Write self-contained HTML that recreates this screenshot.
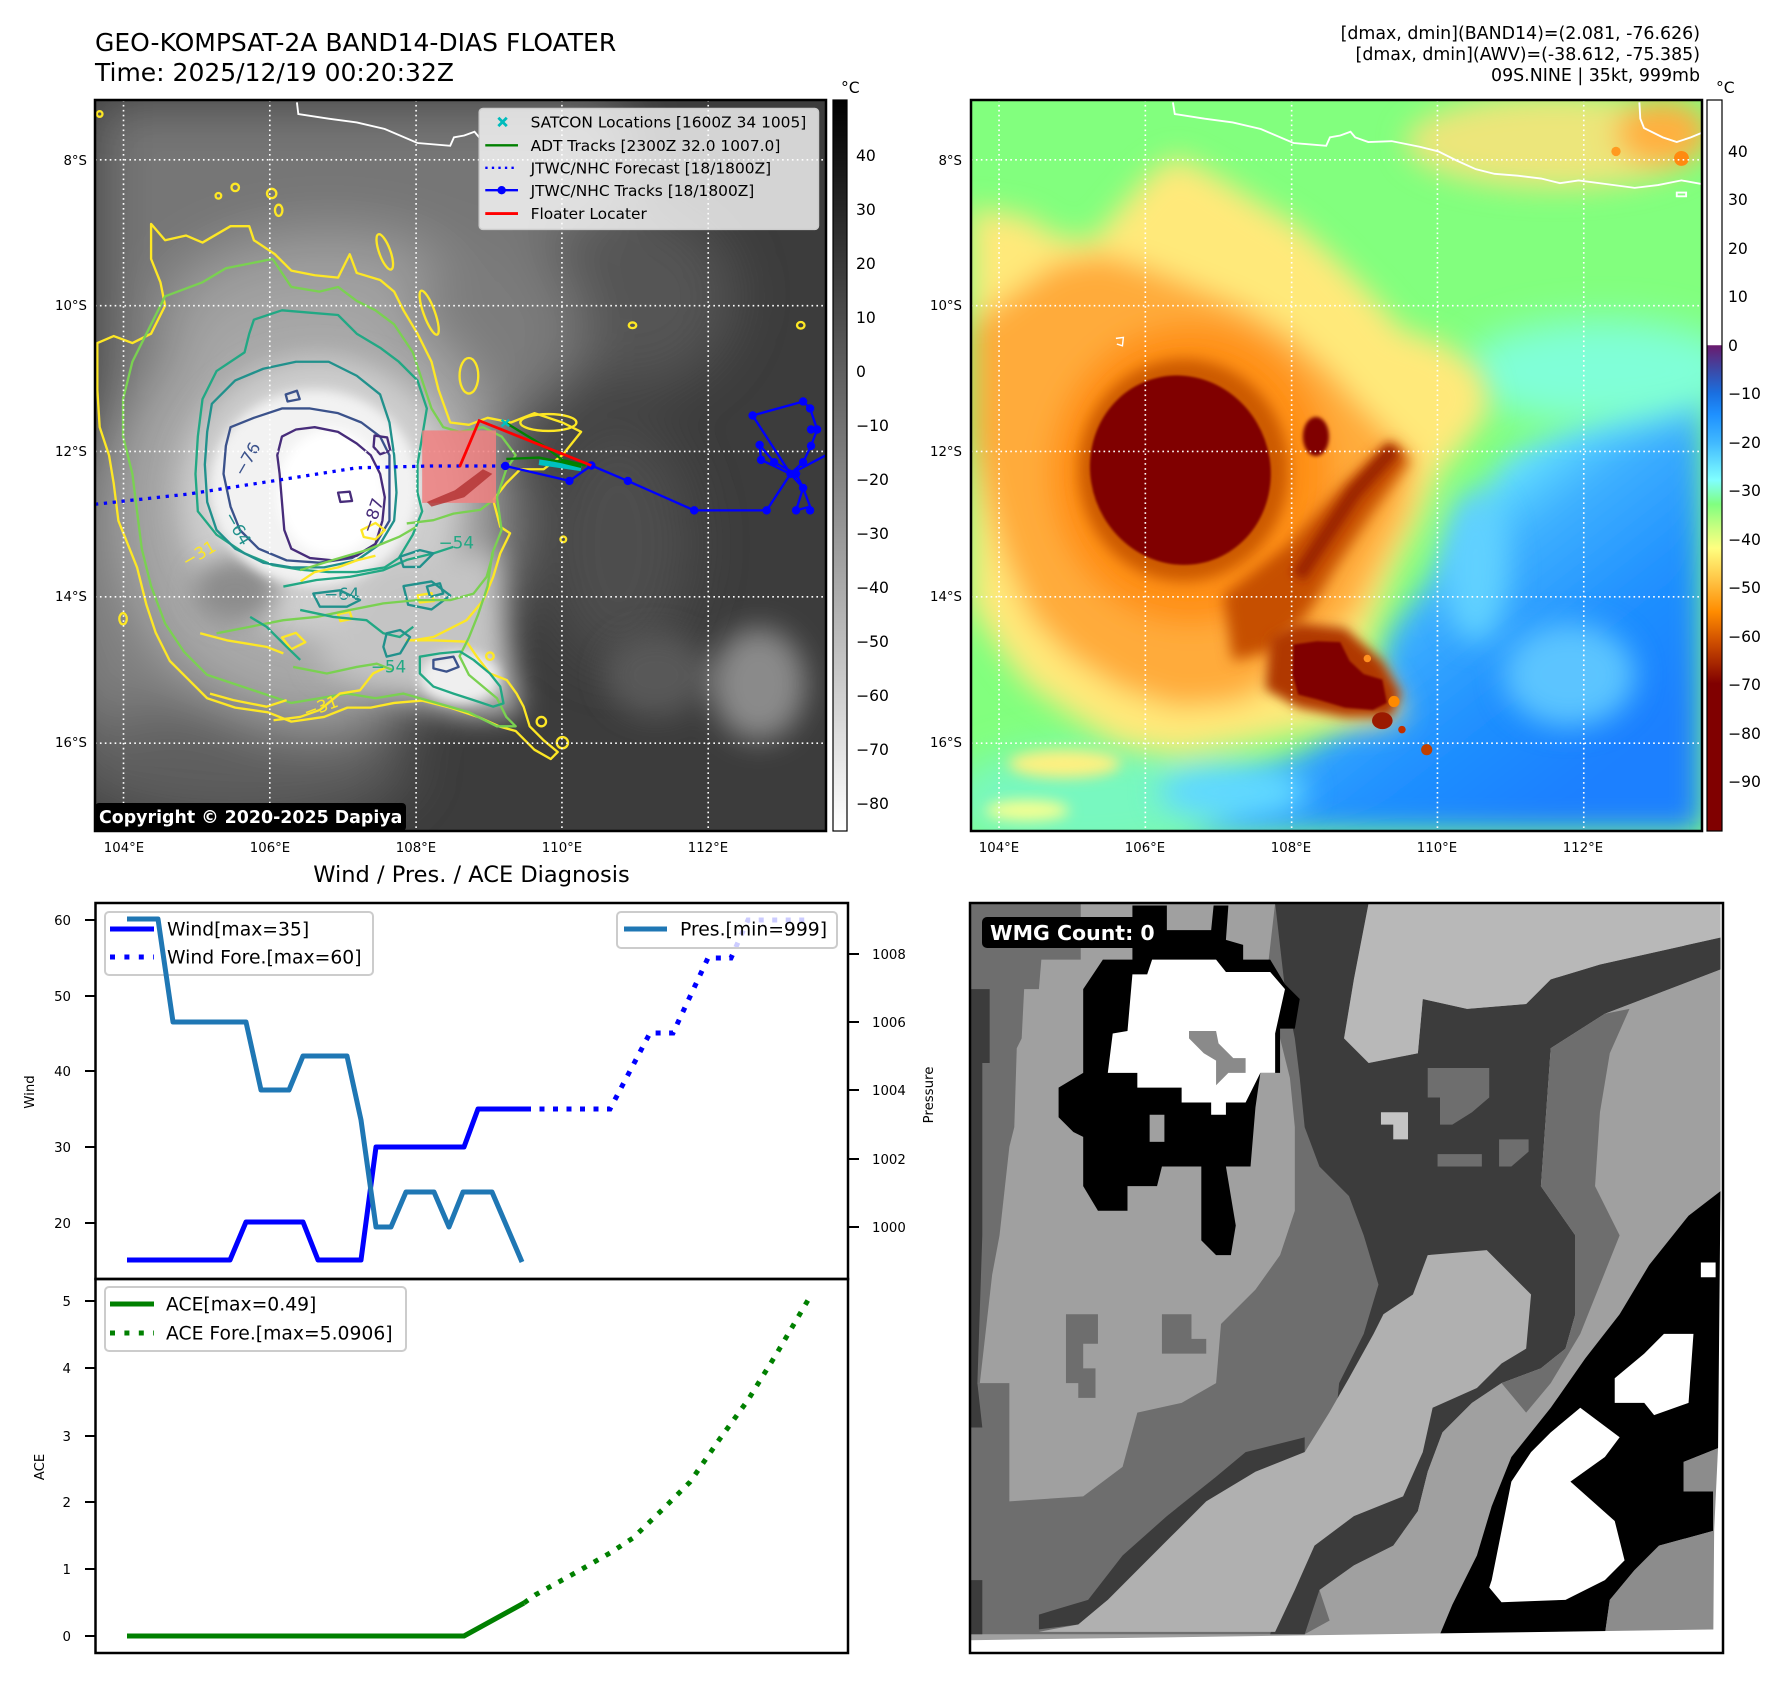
<!DOCTYPE html>
<html><head><meta charset="utf-8"><style>
html,body{margin:0;padding:0;background:#fff;}
svg{display:block;font-family:"DejaVu Sans","Liberation Sans",sans-serif;}
</style></head><body>
<svg width="1788" height="1690" viewBox="0 0 1788 1690" xmlns="http://www.w3.org/2000/svg">
<defs>
<filter id="b2" x="-20%" y="-20%" width="140%" height="140%"><feGaussianBlur stdDeviation="2"/></filter>
<filter id="b4" x="-50%" y="-50%" width="200%" height="200%"><feGaussianBlur stdDeviation="4"/></filter>
<filter id="b10" x="-50%" y="-50%" width="200%" height="200%"><feGaussianBlur stdDeviation="10"/></filter>
<filter id="b12" x="-50%" y="-50%" width="200%" height="200%"><feGaussianBlur stdDeviation="12"/></filter>
<filter id="b15" x="-50%" y="-50%" width="200%" height="200%"><feGaussianBlur stdDeviation="15"/></filter>
<filter id="b25" x="-50%" y="-50%" width="200%" height="200%"><feGaussianBlur stdDeviation="25"/></filter>
<filter id="b30" x="-50%" y="-50%" width="200%" height="200%"><feGaussianBlur stdDeviation="30"/></filter>
<filter id="b40" x="-50%" y="-50%" width="200%" height="200%"><feGaussianBlur stdDeviation="40"/></filter>
<filter id="b60" x="-50%" y="-50%" width="200%" height="200%"><feGaussianBlur stdDeviation="60"/></filter>
<linearGradient id="cb1" x1="0" y1="0" x2="0" y2="1">
<stop offset="0" stop-color="#000"/><stop offset="1" stop-color="#fff"/>
</linearGradient>
<linearGradient id="cb2" x1="0" y1="0" x2="0" y2="1">
<stop offset="0" stop-color="#fff"/><stop offset="0.335" stop-color="#fff"/>
<stop offset="0.336" stop-color="#6a1b6e"/><stop offset="0.37" stop-color="#3b4aa8"/>
<stop offset="0.401" stop-color="#1a6fe0"/><stop offset="0.43" stop-color="#1e90ff"/>
<stop offset="0.468" stop-color="#40b8ff"/><stop offset="0.52" stop-color="#80ffff"/>
<stop offset="0.553" stop-color="#80ff80"/><stop offset="0.585" stop-color="#c8ff80"/>
<stop offset="0.613" stop-color="#ffff80"/><stop offset="0.66" stop-color="#ffc040"/>
<stop offset="0.70" stop-color="#ff8c00"/><stop offset="0.74" stop-color="#d05000"/>
<stop offset="0.775" stop-color="#a02000"/><stop offset="0.798" stop-color="#800000"/>
<stop offset="1" stop-color="#800000"/>
</linearGradient>
<linearGradient id="blueg" gradientUnits="userSpaceOnUse" x1="950" y1="700" x2="1450" y2="1350">
<stop offset="0" stop-color="#82ffd0"/><stop offset="0.18" stop-color="#72f0ff"/>
<stop offset="0.4" stop-color="#3eb0ff"/><stop offset="0.7" stop-color="#2090ff"/>
<stop offset="1" stop-color="#1a80ff"/>
</linearGradient>
</defs>

<!-- Titles -->
<text x="95" y="51" font-size="25">GEO-KOMPSAT-2A BAND14-DIAS FLOATER</text>
<text x="95" y="81" font-size="25">Time: 2025/12/19 00:20:32Z</text>
<text x="1700" y="39" font-size="17.4" text-anchor="end">[dmax, dmin](BAND14)=(2.081, -76.626)</text>
<text x="1700" y="60" font-size="17.4" text-anchor="end">[dmax, dmin](AWV)=(-38.612, -75.385)</text>
<text x="1700" y="81" font-size="17.4" text-anchor="end">09S.NINE | 35kt, 999mb</text>

<!-- ============ GRAY MAP ============ -->
<svg x="95" y="100" width="731" height="731" viewBox="0 0 1564 1564" preserveAspectRatio="none">
<rect width="1564" height="1564" fill="#3c3c3c"/>
<g filter="url(#b60)">
<path d="M0,0 L1120,0 1160,250 1080,460 950,580 700,640 400,700 0,760 Z" fill="#767676"/>
<ellipse cx="1150" cy="420" rx="220" ry="200" fill="#555555"/>
<ellipse cx="160" cy="1050" rx="260" ry="480" fill="#7e7e7e"/>
<ellipse cx="300" cy="1420" rx="380" ry="130" fill="#5e5e5e"/>
<ellipse cx="1120" cy="950" rx="160" ry="260" fill="#4e4e4e"/>
<ellipse cx="500" cy="470" rx="360" ry="190" fill="#9c9c9c"/>
<ellipse cx="860" cy="500" rx="180" ry="200" fill="#7c7c7c"/>
<ellipse cx="470" cy="880" rx="420" ry="460" fill="#a8a8a8"/>
</g>
<g filter="url(#b30)">
<ellipse cx="480" cy="850" rx="300" ry="300" fill="#cdcdcd"/>
<path d="M600,1000 L860,960 880,1150 910,1310 800,1320 680,1280 560,1250 470,1200 Z" fill="#c4c4c4"/>
<ellipse cx="1420" cy="1250" rx="100" ry="120" fill="#8a8a8a"/>
<ellipse cx="1200" cy="1230" rx="110" ry="90" fill="#585858"/>
</g>
<ellipse cx="300" cy="1050" rx="90" ry="70" fill="#8c8c8c" filter="url(#b25)"/>
<g filter="url(#b12)">
<ellipse cx="470" cy="830" rx="225" ry="210" fill="#f2f2f2"/>
<ellipse cx="780" cy="1235" rx="85" ry="55" fill="#efefef"/>
<ellipse cx="505" cy="840" rx="115" ry="135" fill="#fff"/>
</g>
<!-- contours -->
<g fill="none" stroke-width="5" stroke-linejoin="round">
<path stroke="#fde725" d="M120,265 L150,300 195,290 230,305 290,270 330,270 340,300 385,330 420,365 470,375 520,380 545,330 560,370 610,385 640,410 660,450 690,500 720,560 735,620 760,690 800,695 840,680 890,690 940,670 1000,690 1040,710 1000,760 960,790 910,790 880,820 852,856 867,913 888,927 867,970 852,1020 831,1070 795,1113 724,1149 681,1156 667,1156 724,1156 795,1159 817,1191 845,1227 881,1241 902,1270 917,1298 930,1340 960,1370 990,1395 975,1410 940,1390 900,1350 867,1341 820,1320 760,1300 700,1285 640,1290 590,1300 540,1300 490,1320 420,1330 370,1310 300,1300 240,1280 200,1240 160,1200 130,1140 110,1080 90,1000 70,950 50,900 40,820 30,760 10,700 5,620 5,520 40,505 80,520 120,500 150,440 140,390 120,340 Z"/>
<path stroke="#7ad151" d="M150,420 L230,390 280,360 330,350 380,340 420,400 480,410 520,400 560,430 600,450 640,480 680,540 700,600 720,660 745,700 780,710 830,700 870,720 900,760 880,790 860,850 870,920 850,970 840,1040 820,1100 800,1150 780,1190 800,1230 860,1280 880,1320 900,1340 860,1340 800,1310 730,1290 660,1270 600,1280 540,1270 480,1280 420,1290 360,1270 300,1250 240,1230 190,1180 150,1120 120,1040 100,960 90,880 80,800 60,720 60,640 80,560 110,500 Z"/>
<path stroke="#22a884" d="M340,470 L400,450 460,455 520,460 560,500 610,530 650,560 690,600 710,660 700,720 690,780 690,840 700,880 680,930 650,980 620,1000 560,1010 500,1010 440,1005 380,995 320,970 260,930 220,880 215,800 220,720 230,640 260,580 320,540 330,500 Z"/>
<path stroke="#22a884" d="M695,1191 L738,1184 781,1180 810,1198 845,1227 867,1255 874,1291 852,1298 810,1284 767,1270 724,1255 695,1227 Z"/>
<path stroke="#21918c" d="M660,1040 L720,1030 760,1060 720,1090 670,1080 Z"/>
<path stroke="#21918c" d="M250,650 L300,600 360,575 430,560 500,560 560,590 610,630 630,690 640,760 645,840 640,900 610,950 560,985 490,1000 420,1000 360,990 300,960 260,920 240,860 235,780 240,710 Z"/>
<path stroke="#3b528b" d="M290,700 L340,680 400,660 460,660 520,670 570,690 610,720 630,760 630,830 630,900 600,950 550,980 480,990 410,985 350,960 310,920 290,870 275,800 280,740 Z"/>
<path stroke="#472c7a" d="M400,720 L430,705 470,700 520,710 560,735 590,760 610,800 620,850 615,900 600,950 560,975 510,985 460,980 420,960 405,920 400,860 395,800 390,760 Z"/>
<path stroke="#472c7a" d="M598,718 L625,722 632,750 610,758 596,742 Z"/>
<path stroke="#3b528b" d="M408,630 L432,622 438,640 412,645 Z"/>
<path stroke="#472c7a" d="M520,840 L545,838 550,858 525,860 Z"/>
<path stroke="#3b528b" d="M724,1198 L767,1191 778,1213 752,1223 724,1216 Z"/>
<path stroke="#fde725" d="M440,1030 L470,1010 520,1000 560,985 600,975"/>
<path stroke="#fde725" d="M570,920 L600,905 620,920 600,940 575,935 Z"/>
<path stroke="#fde725" d="M225,1141 L282,1156 367,1170 403,1184"/>
<path stroke="#fde725" d="M246,1270 L296,1284 367,1298 410,1284"/>
<path stroke="#fde725" d="M382,1327 L439,1320 481,1305 524,1270 567,1263 595,1227 624,1213"/>
<path stroke="#fde725" d="M400,1150 L430,1140 450,1160 420,1175 Z M520,1100 L545,1095 550,1110 525,1115 Z M690,1060 L720,1055 725,1072 695,1075 Z"/>
<path stroke="#7ad151" d="M667,906 L724,899 767,885 824,877 852,856"/>
<path stroke="#7ad151" d="M439,1006 L510,984 581,963 652,934 688,913"/>
<path stroke="#7ad151" d="M260,1141 L332,1127 403,1113 474,1106 546,1091 617,1077 688,1070 760,1070 810,1056 838,1020 852,970"/>
<path stroke="#7ad151" d="M424,1213 L496,1227 560,1213 603,1206 638,1220"/>
<path stroke="#22a884" d="M403,1041 L474,1027 546,1020 617,1006 667,984 724,970 767,956"/>
<path stroke="#22a884" d="M439,1091 L510,1106 581,1113 617,1141 652,1149 681,1127"/>
<path stroke="#22a884" d="M332,1106 L367,1127 410,1170 439,1198"/>
<path stroke="#21918c" d="M467,1056 L524,1049 567,1070 539,1084 481,1084 Z"/>
<path stroke="#21918c" d="M624,1141 L653,1134 674,1149 653,1184 624,1191 617,1170 Z"/>
<path stroke="#21918c" d="M710,1041 L738,1034 745,1056 717,1063 Z"/>
<path stroke="#21918c" d="M653,977 L695,963 724,970 695,999 660,999 Z"/>
<g stroke="#fde725">
<circle cx="378" cy="200" r="10"/><circle cx="300" cy="187" r="8"/><circle cx="264" cy="205" r="6"/>
<ellipse cx="393" cy="236" rx="8" ry="12"/><ellipse cx="620" cy="325" rx="12" ry="40" transform="rotate(-20 620 325)"/>
<ellipse cx="800" cy="590" rx="20" ry="38"/><ellipse cx="715" cy="455" rx="12" ry="50" transform="rotate(-20 715 455)"/>
<ellipse cx="1150" cy="482" rx="8" ry="6"/><ellipse cx="1510" cy="482" rx="8" ry="7"/>
<circle cx="10" cy="30" r="6"/><ellipse cx="60" cy="1110" rx="8" ry="12"/>
<ellipse cx="970" cy="690" rx="60" ry="18"/><ellipse cx="1002" cy="940" rx="6" ry="6"/>
<circle cx="845" cy="1190" r="8"/><circle cx="955" cy="1330" r="10"/><circle cx="1000" cy="1375" r="12"/>
</g>
</g>
<g font-size="36">
<text x="290" y="800" fill="#3b528b" transform="rotate(-60 310 780)">−76</text>
<text x="270" y="910" fill="#21918c" transform="rotate(60 290 905)">−64</text>
<text x="565" y="920" fill="#472c7a" transform="rotate(-70 585 905)">−87</text>
<text x="185" y="990" fill="#fde725" transform="rotate(-30 210 975)">−31</text>
<text x="735" y="960" fill="#22a884">−54</text>
<text x="445" y="1315" fill="#fde725" transform="rotate(-20 470 1300)">−31</text>
<text x="490" y="1070" fill="#21918c">−64</text>
<text x="590" y="1225" fill="#22a884">−54</text>
</g>
<path d="M432,5 L435,30 500,40 560,48 620,62 690,92 760,98 768,80 790,76 812,68 822,80" fill="none" stroke="#fff" stroke-width="4"/>
<g stroke="#fff" stroke-width="3.5" stroke-dasharray="3.5 7">
<line x1="61" y1="0" x2="61" y2="1564"/><line x1="374" y1="0" x2="374" y2="1564"/><line x1="687" y1="0" x2="687" y2="1564"/><line x1="999" y1="0" x2="999" y2="1564"/><line x1="1312" y1="0" x2="1312" y2="1564"/>
<line x1="0" y1="128" x2="1564" y2="128"/><line x1="0" y1="440" x2="1564" y2="440"/><line x1="0" y1="752" x2="1564" y2="752"/><line x1="0" y1="1063" x2="1564" y2="1063"/><line x1="0" y1="1376" x2="1564" y2="1376"/>
</g>
<rect x="700" y="707" width="158" height="155" fill="#f08080" fill-opacity="0.85"/>
<path d="M710,860 L770,835 830,790 850,800 790,850 720,870 Z" fill="#b03030" opacity="0.8"/>
<path d="M0,865 L200,843 400,812 560,787 720,783 880,783" fill="none" stroke="#0000ff" stroke-width="7" stroke-dasharray="7 12"/>
<path d="M878,783 L1015,815 1062,782 1140,815 1282,878 1437,878 1488,800 1515,775 1532,740 1545,705 1530,660 1515,645 1407,675 1488,800 1515,830 1530,870 1500,878 1515,830 1500,800 1453,775 1422,738 1425,770 1488,800 1564,760" fill="none" stroke="#0000ff" stroke-width="5" stroke-linejoin="round"/>
<g fill="#0000ff">
<circle cx="878" cy="783" r="9"/><circle cx="1015" cy="815" r="9"/><circle cx="1062" cy="782" r="9"/><circle cx="1140" cy="815" r="9"/><circle cx="1282" cy="878" r="9"/><circle cx="1437" cy="878" r="9"/><circle cx="1500" cy="878" r="9"/><circle cx="1530" cy="878" r="9"/><circle cx="1407" cy="675" r="9"/><circle cx="1515" cy="645" r="9"/><circle cx="1530" cy="660" r="9"/><circle cx="1545" cy="705" r="9"/><circle cx="1532" cy="705" r="9"/><circle cx="1532" cy="740" r="9"/><circle cx="1515" cy="775" r="9"/><circle cx="1488" cy="800" r="9"/><circle cx="1500" cy="800" r="9"/><circle cx="1422" cy="738" r="9"/><circle cx="1425" cy="770" r="9"/><circle cx="1453" cy="775" r="9"/><circle cx="1515" cy="830" r="9"/>
</g>
<path d="M950,775 L1040,788" stroke="#00c0c0" stroke-width="12"/>
<path d="M878,690 L960,740 1000,770 1050,782 M880,768 L950,765 1000,775 1040,785" fill="none" stroke="#008000" stroke-width="5"/>
<path d="M870,684 L886,698 M886,684 L870,698" stroke="#00c0c0" stroke-width="5"/>
<path d="M780,785 L822,686 L1062,782" fill="none" stroke="#ff0000" stroke-width="6"/>
<rect x="822" y="18" width="726" height="259" rx="8" fill="#fff" fill-opacity="0.78" stroke="#cccccc" stroke-width="3"/>
<path d="M863,38 L881,56 M881,38 L863,56" stroke="#00bcbc" stroke-width="6"/>
<line x1="835" y1="97" x2="905" y2="97" stroke="#008000" stroke-width="5"/>
<line x1="835" y1="145" x2="905" y2="145" stroke="#0000ff" stroke-width="5" stroke-dasharray="5 9"/>
<line x1="835" y1="193" x2="905" y2="193" stroke="#0000ff" stroke-width="5"/><circle cx="870" cy="193" r="9" fill="#0000ff"/>
<line x1="835" y1="243" x2="905" y2="243" stroke="#ff0000" stroke-width="6"/>
<g font-size="33">
<text x="932" y="59">SATCON Locations [1600Z 34 1005]</text>
<text x="932" y="109">ADT Tracks [2300Z 32.0 1007.0]</text>
<text x="932" y="157">JTWC/NHC Forecast [18/1800Z]</text>
<text x="932" y="205">JTWC/NHC Tracks [18/1800Z]</text>
<text x="932" y="255">Floater Locater</text>
</g>
</svg>
<rect x="95" y="100" width="731" height="731" fill="none" stroke="#000" stroke-width="2.5"/>
<rect x="95" y="803" width="311" height="28" rx="4" fill="#000"/>
<text x="99" y="823" font-size="17.4" font-weight="bold" fill="#fff">Copyright © 2020-2025 Dapiya</text>

<!-- colorbar 1 -->
<rect x="833" y="100" width="14" height="731" fill="url(#cb1)" stroke="#000" stroke-width="1.2"/>
<text x="841" y="93" font-size="15.6">°C</text>
<g font-size="15.6">
<text x="856" y="161">40</text><text x="856" y="215">30</text><text x="856" y="269">20</text><text x="856" y="323">10</text><text x="856" y="377">0</text>
<text x="856" y="431">−10</text><text x="856" y="485">−20</text><text x="856" y="539">−30</text><text x="856" y="593">−40</text><text x="856" y="647">−50</text><text x="856" y="701">−60</text><text x="856" y="755">−70</text><text x="856" y="809">−80</text>
</g>
<g font-size="13.3">
<g text-anchor="end">
<text x="87" y="165">8°S</text><text x="87" y="310">10°S</text><text x="87" y="456">12°S</text><text x="87" y="601">14°S</text><text x="87" y="747">16°S</text>
<text x="962" y="165">8°S</text><text x="962" y="310">10°S</text><text x="962" y="456">12°S</text><text x="962" y="601">14°S</text><text x="962" y="747">16°S</text>
</g>
<g text-anchor="middle">
<text x="124" y="852">104°E</text><text x="270" y="852">106°E</text><text x="416" y="852">108°E</text><text x="562" y="852">110°E</text><text x="708" y="852">112°E</text>
<text x="999" y="852">104°E</text><text x="1145" y="852">106°E</text><text x="1291" y="852">108°E</text><text x="1437" y="852">110°E</text><text x="1583" y="852">112°E</text>
</g>
</g>

<!-- ============ COLOR MAP ============ -->
<svg x="971" y="100" width="731" height="731" viewBox="0 0 1564 1564" preserveAspectRatio="none">
<rect width="1564" height="1564" fill="#82ff7e"/>
<path d="M1564,600 L1420,640 1280,700 1150,760 1090,840 1050,930 980,1030 900,1130 860,1250 810,1330 720,1390 620,1440 520,1490 440,1564 1564,1564 Z" fill="url(#blueg)" filter="url(#b30)"/>
<g filter="url(#b40)">
<ellipse cx="1350" cy="580" rx="300" ry="110" fill="#80ffd8"/>
<ellipse cx="250" cy="1500" rx="300" ry="120" fill="#78f8c0"/>
</g>
<g filter="url(#b30)">
<ellipse cx="1280" cy="1230" rx="140" ry="110" fill="#5cc4ff"/>
<ellipse cx="1080" cy="1000" rx="70" ry="160" fill="#60d0ff"/>
<ellipse cx="560" cy="1480" rx="160" ry="60" fill="#60d8ff"/>
<path d="M0,230 L120,250 180,290 260,300 320,230 380,160 440,120 520,160 600,210 700,270 780,340 860,420 920,490 1010,520 1090,580 1110,660 1060,730 1000,800 960,900 910,1000 870,1100 840,1180 900,1260 930,1320 860,1340 760,1340 660,1360 560,1380 440,1400 320,1380 220,1320 120,1250 50,1160 0,1080 Z" fill="#ffe97a"/>
<path d="M0,480 L80,420 180,350 280,330 380,360 480,400 580,440 680,500 770,580 840,660 900,720 950,770 930,880 870,1000 820,1100 760,1160 690,1200 630,1260 560,1290 440,1300 320,1260 210,1190 130,1110 70,980 30,850 0,720 Z" fill="#ffab3a"/>
<ellipse cx="470" cy="800" rx="300" ry="320" fill="#ff9018"/>
<ellipse cx="1250" cy="90" rx="320" ry="100" fill="#ffe27a" opacity="0.85"/>
<ellipse cx="1480" cy="70" rx="100" ry="70" fill="#ffb040"/>
</g>
<ellipse cx="200" cy="1420" rx="120" ry="30" fill="#fff080" filter="url(#b15)"/>
<ellipse cx="120" cy="1520" rx="90" ry="22" fill="#f8ff90" filter="url(#b15)"/>
<ellipse cx="455" cy="792" rx="225" ry="238" fill="#cc5a00" filter="url(#b15)"/>
<path d="M540,1060 L680,950 800,820 900,730 940,770 860,880 780,1000 720,1100 640,1180 560,1200 Z" fill="#c65000" filter="url(#b15)"/>
<path d="M905,745 L820,840 760,930 700,1020" fill="none" stroke="#9a2400" stroke-width="32" filter="url(#b10)"/>
<ellipse cx="448" cy="792" rx="192" ry="204" fill="#800000" transform="rotate(-20 448 792)" filter="url(#b2)"/>
<ellipse cx="738" cy="720" rx="28" ry="42" fill="#800000" filter="url(#b4)"/>
<path d="M640,1150 L700,1120 800,1130 880,1200 920,1270 900,1320 800,1320 700,1300 630,1260 Z" fill="#b03800" filter="url(#b12)"/>
<path d="M690,1165 L740,1158 790,1160 810,1200 840,1228 880,1240 890,1290 860,1305 800,1300 740,1282 700,1272 688,1230 Z" fill="#800000" filter="url(#b2)"/>
<ellipse cx="880" cy="1328" rx="22" ry="18" fill="#9a1a00"/>
<circle cx="905" cy="1287" r="12" fill="#ff8a00"/>
<circle cx="922" cy="1347" r="8" fill="#c03000"/>
<circle cx="975" cy="1390" r="12" fill="#c04000"/>
<circle cx="848" cy="1195" r="8" fill="#ff9020"/>
<circle cx="1520" cy="125" r="16" fill="#ff8a10"/>
<circle cx="1380" cy="110" r="10" fill="#ff9a20"/>
<path d="M310,510 L326,508 324,526 312,522" fill="none" stroke="#fff" stroke-width="3"/>
<path d="M432,5 L436,30 500,40 560,48 620,62 690,92 760,98 768,80 790,76 812,68 822,80 850,90 900,88 960,100 1000,110 1040,130 1080,148 1120,158 1170,162 1220,168 1260,178 1300,172 1360,180 1420,188 1470,182 1520,172 1564,180 M1430,5 L1432,40 1440,60 1480,80 1510,90 1540,80 1564,70 M1510,198 L1530,198 1530,206 1510,206 Z" fill="none" stroke="#fff" stroke-width="4"/>
<g stroke="#fff" stroke-width="3.5" stroke-dasharray="3.5 7">
<line x1="60" y1="0" x2="60" y2="1564"/><line x1="373" y1="0" x2="373" y2="1564"/><line x1="686" y1="0" x2="686" y2="1564"/><line x1="998" y1="0" x2="998" y2="1564"/><line x1="1311" y1="0" x2="1311" y2="1564"/>
<line x1="0" y1="128" x2="1564" y2="128"/><line x1="0" y1="440" x2="1564" y2="440"/><line x1="0" y1="752" x2="1564" y2="752"/><line x1="0" y1="1063" x2="1564" y2="1063"/><line x1="0" y1="1376" x2="1564" y2="1376"/>
</g>
</svg>
<rect x="971" y="100" width="731" height="731" fill="none" stroke="#000" stroke-width="2.5"/>

<!-- colorbar 2 -->
<rect x="1707" y="100" width="15" height="731" fill="url(#cb2)" stroke="#000" stroke-width="1.2"/>
<text x="1716" y="93" font-size="15.6">°C</text>
<g font-size="15.6">
<text x="1728" y="157">40</text><text x="1728" y="205">30</text><text x="1728" y="254">20</text><text x="1728" y="302">10</text><text x="1728" y="351">0</text>
<text x="1728" y="399">−10</text><text x="1728" y="448">−20</text><text x="1728" y="496">−30</text><text x="1728" y="545">−40</text><text x="1728" y="593">−50</text><text x="1728" y="642">−60</text><text x="1728" y="690">−70</text><text x="1728" y="739">−80</text><text x="1728" y="787">−90</text>
</g>

<!-- ============ WIND / PRES / ACE ============ -->
<text x="471.5" y="882" font-size="22.5" text-anchor="middle">Wind / Pres. / ACE Diagnosis</text>
<polyline points="127,1260 230,1260 246,1222 303,1222 318,1260 361,1260 376,1147 464,1147 478,1109 526,1109" fill="none" stroke="#0000ff" stroke-width="5" stroke-linejoin="round"/>
<polyline points="526,1109 610,1109 650,1033 673,1033 708,958 731,958 748,920 806,920" fill="none" stroke="#0000ff" stroke-width="5" stroke-dasharray="5 8.5"/>
<rect x="105" y="912" width="268" height="63" rx="4" fill="#fff" fill-opacity="0.8" stroke="#cccccc" stroke-width="2"/>
<line x1="110" y1="929" x2="154" y2="929" stroke="#0000ff" stroke-width="5"/>
<line x1="110" y1="957" x2="154" y2="957" stroke="#0000ff" stroke-width="5" stroke-dasharray="5 9.4"/>
<text x="167" y="935.5" font-size="18.75">Wind[max=35]</text>
<text x="167" y="963.5" font-size="18.75">Wind Fore.[max=60]</text>
<polyline points="127,919 158,919 173,1022 246,1022 261,1090 289,1090 303,1056 347,1056 361,1120 376,1227 391,1227 406,1192 434,1192 449,1227 463,1192 492,1192 522,1262" fill="none" stroke="#1f77b4" stroke-width="5" stroke-linejoin="round"/>
<rect x="617" y="912" width="220" height="36" rx="4" fill="#fff" fill-opacity="0.8" stroke="#cccccc" stroke-width="2"/>
<line x1="624" y1="929" x2="667" y2="929" stroke="#1f77b4" stroke-width="5"/>
<text x="680" y="935.5" font-size="18.75">Pres.[min=999]</text>
<polyline points="127,1636 464,1636 524,1603" fill="none" stroke="#008000" stroke-width="5" stroke-linejoin="round"/>
<polyline points="524,1603 535,1595 575,1573 610,1553 633,1538 662,1510 690,1482 719,1440 748,1400 777,1353 811,1295" fill="none" stroke="#008000" stroke-width="5" stroke-dasharray="5 8.5"/>
<rect x="105" y="1287" width="301" height="64" rx="4" fill="#fff" fill-opacity="0.8" stroke="#cccccc" stroke-width="2"/>
<line x1="110" y1="1304" x2="154" y2="1304" stroke="#008000" stroke-width="5"/>
<line x1="110" y1="1333" x2="154" y2="1333" stroke="#008000" stroke-width="5" stroke-dasharray="5 9.4"/>
<text x="166" y="1310.5" font-size="18.75">ACE[max=0.49]</text>
<text x="166" y="1339.5" font-size="18.75">ACE Fore.[max=5.0906]</text>
<rect x="95.5" y="903" width="752.5" height="376" fill="none" stroke="#000" stroke-width="2.5"/>
<rect x="95.5" y="1279" width="752.5" height="374" fill="none" stroke="#000" stroke-width="2.5"/>
<g stroke="#000" stroke-width="2">
<line x1="85" y1="920" x2="95.5" y2="920"/><line x1="85" y1="996" x2="95.5" y2="996"/><line x1="85" y1="1071" x2="95.5" y2="1071"/><line x1="85" y1="1147" x2="95.5" y2="1147"/><line x1="85" y1="1223" x2="95.5" y2="1223"/>
<line x1="848" y1="954" x2="859" y2="954"/><line x1="848" y1="1022" x2="859" y2="1022"/><line x1="848" y1="1090" x2="859" y2="1090"/><line x1="848" y1="1159" x2="859" y2="1159"/><line x1="848" y1="1227" x2="859" y2="1227"/>
<line x1="85" y1="1636" x2="95.5" y2="1636"/><line x1="85" y1="1569" x2="95.5" y2="1569"/><line x1="85" y1="1502" x2="95.5" y2="1502"/><line x1="85" y1="1436" x2="95.5" y2="1436"/><line x1="85" y1="1368" x2="95.5" y2="1368"/><line x1="85" y1="1301" x2="95.5" y2="1301"/>
</g>
<g font-size="13.3">
<g text-anchor="end">
<text x="71" y="925">60</text><text x="71" y="1001">50</text><text x="71" y="1076">40</text><text x="71" y="1152">30</text><text x="71" y="1228">20</text>
<text x="71" y="1641">0</text><text x="71" y="1574">1</text><text x="71" y="1507">2</text><text x="71" y="1441">3</text><text x="71" y="1373">4</text><text x="71" y="1306">5</text>
</g>
<text x="872" y="959">1008</text><text x="872" y="1027">1006</text><text x="872" y="1095">1004</text><text x="872" y="1164">1002</text><text x="872" y="1232">1000</text>
<text transform="translate(34,1092) rotate(-90)" text-anchor="middle">Wind</text>
<text transform="translate(44,1467) rotate(-90)" text-anchor="middle">ACE</text>
<text transform="translate(933,1095) rotate(-90)" text-anchor="middle">Pressure</text>
</g>

<!-- ============ AWV PANEL ============ -->
<svg x="970" y="903" width="753" height="750" viewBox="20 25 1530 1523" preserveAspectRatio="none">
<rect x="20" y="25" width="1530" height="1523" fill="#a0a0a0"/>
<path d="M20,25 L245,25 245,140 165,140 160,200 130,200 125,300 115,320 110,480 100,520 80,700 65,780 40,1000 20,1000 Z" fill="#6e6e6e"/>
<path d="M20,1000 L100,1000 100,1240 250,1230 330,1170 360,1060 450,1040 520,1000 530,880 600,810 650,740 680,650 680,480 670,380 650,300 620,200 640,25 900,25 900,1400 700,1510 20,1510 Z" fill="#6e6e6e"/>
<path d="M20,200 L60,200 60,350 45,350 45,700 35,1000 45,1090 20,1090 Z M20,1400 L45,1400 45,1510 20,1510 Z" fill="#3c3c3c"/>
<path d="M640,25 L830,25 800,180 780,300 830,350 930,330 940,220 1030,240 1150,230 1200,180 1300,150 1545,95 1545,160 1310,250 1200,320 1190,460 1180,600 1250,700 1250,860 1230,930 1180,970 1100,1000 1040,1040 980,1100 950,1180 930,1260 880,1330 800,1370 730,1420 700,1510 630,1510 660,1400 700,1310 740,1200 760,1100 770,1000 820,900 850,800 820,700 790,620 730,560 700,480 690,380 680,300 660,200 Z" fill="#3c3c3c"/>
<path d="M160,1470 L260,1440 330,1350 420,1270 520,1190 580,1140 700,1110 700,1140 600,1180 500,1240 430,1310 360,1380 300,1440 240,1490 160,1500 Z" fill="#3c3c3c"/>
<path d="M160,1505 L240,1490 300,1440 360,1380 430,1310 500,1240 600,1180 700,1140 750,1060 790,990 840,900 860,860 920,820 950,740 1070,730 1100,760 1160,820 1150,930 1100,960 1050,1010 960,1050 940,1140 900,1230 800,1270 720,1330 680,1420 640,1505 Z" fill="#b0b0b0"/>
<path d="M830,25 L1545,25 1545,95 1300,150 1200,180 1150,230 1030,240 940,220 930,330 830,350 780,300 800,180 Z" fill="#b8b8b8"/>
<path d="M1200,320 L1310,250 1545,160 1545,600 1480,660 1400,760 1340,860 1270,950 1200,1050 1120,1150 1080,1250 1050,1350 1000,1450 980,1510 760,1510 730,1420 800,1370 880,1330 930,1260 950,1180 980,1100 1040,1040 1100,1000 1180,970 1230,930 1250,860 1250,700 1180,600 1190,460 Z" fill="#a0a0a0"/>
<path d="M1190,460 L1200,320 1310,250 1360,240 1320,330 1300,450 1290,600 1340,700 1300,800 1260,900 1200,1000 1150,1060 1100,1000 1180,970 1230,930 1250,860 1250,700 1180,600 Z" fill="#6e6e6e"/>
<path d="M1545,610 L1545,1130 1470,1160 1470,1220 1530,1220 1530,1300 1420,1330 1370,1380 1320,1440 1310,1510 975,1510 1000,1450 1050,1350 1080,1250 1120,1150 1200,1050 1270,950 1340,860 1400,760 1480,660 Z" fill="#000"/>
<path d="M1470,1160 L1545,1130 1545,1510 1310,1510 1320,1440 1370,1380 1420,1330 1530,1300 1530,1220 1470,1220 Z" fill="#8c8c8c"/>
<path d="M1330,990 L1390,940 1430,900 1490,900 1480,1040 1410,1065 1390,1040 1330,1040 Z" fill="#fff"/>
<path d="M1080,1400 L1120,1200 1160,1140 1200,1100 1260,1050 1300,1080 1340,1110 1310,1150 1240,1200 1330,1280 1350,1360 1310,1400 1230,1440 1100,1445 1075,1415 Z" fill="#fff"/>
<rect x="1505" y="755" width="30" height="30" fill="#fff"/>
<path d="M200,400 L250,370 250,200 290,140 350,140 350,30 420,30 420,80 510,80 515,30 545,30 540,100 575,110 575,140 630,140 660,190 690,220 680,280 650,280 650,370 610,370 600,440 590,560 540,560 560,680 550,740 520,740 490,710 490,560 410,560 400,600 340,600 340,650 280,650 250,600 250,500 230,490 200,460 Z" fill="#000"/>
<path d="M300,370 L310,290 340,285 350,170 380,170 390,140 520,140 540,165 630,165 660,200 640,290 640,370 610,370 580,430 540,430 540,455 510,455 510,430 450,430 450,400 360,400 360,370 Z" fill="#fff"/>
<path d="M465,285 L520,285 525,310 555,340 580,340 580,370 545,370 520,395 520,345 495,330 465,300 Z" fill="#8a8a8a"/>
<rect x="385" y="455" width="30" height="55" fill="#a0a0a0"/>
<path d="M215,860 L280,860 280,920 250,920 250,970 275,970 275,1030 240,1030 240,1000 215,1000 Z M410,860 L470,860 470,910 500,910 500,940 410,940 Z" fill="#6e6e6e"/>
<path d="M855,450 L910,450 910,505 880,505 880,475 855,475 Z" fill="#c4c4c4"/>
<path d="M950,360 L1075,360 1075,420 1040,450 1000,475 975,475 975,420 950,420 Z M970,535 L1060,535 1060,560 970,560 Z M1095,505 L1155,505 1155,530 1120,560 1095,560 Z" fill="#6e6e6e"/>
<path d="M20,1522 L1545,1500 1550,1500 1550,1548 20,1548 Z" fill="#fff"/>
<path d="M1545,25 L1550,25 1550,1548 1530,1548 1532,1300 1540,1130 1545,600 Z" fill="#fff"/>
</svg>
<rect x="970" y="903" width="753" height="750" fill="none" stroke="#000" stroke-width="2.5"/>
<rect x="982" y="917" width="180" height="31" rx="5" fill="#000"/>
<text x="990" y="940" font-size="20.5" font-weight="bold" fill="#fff">WMG Count: 0</text>
</svg>
</body></html>
